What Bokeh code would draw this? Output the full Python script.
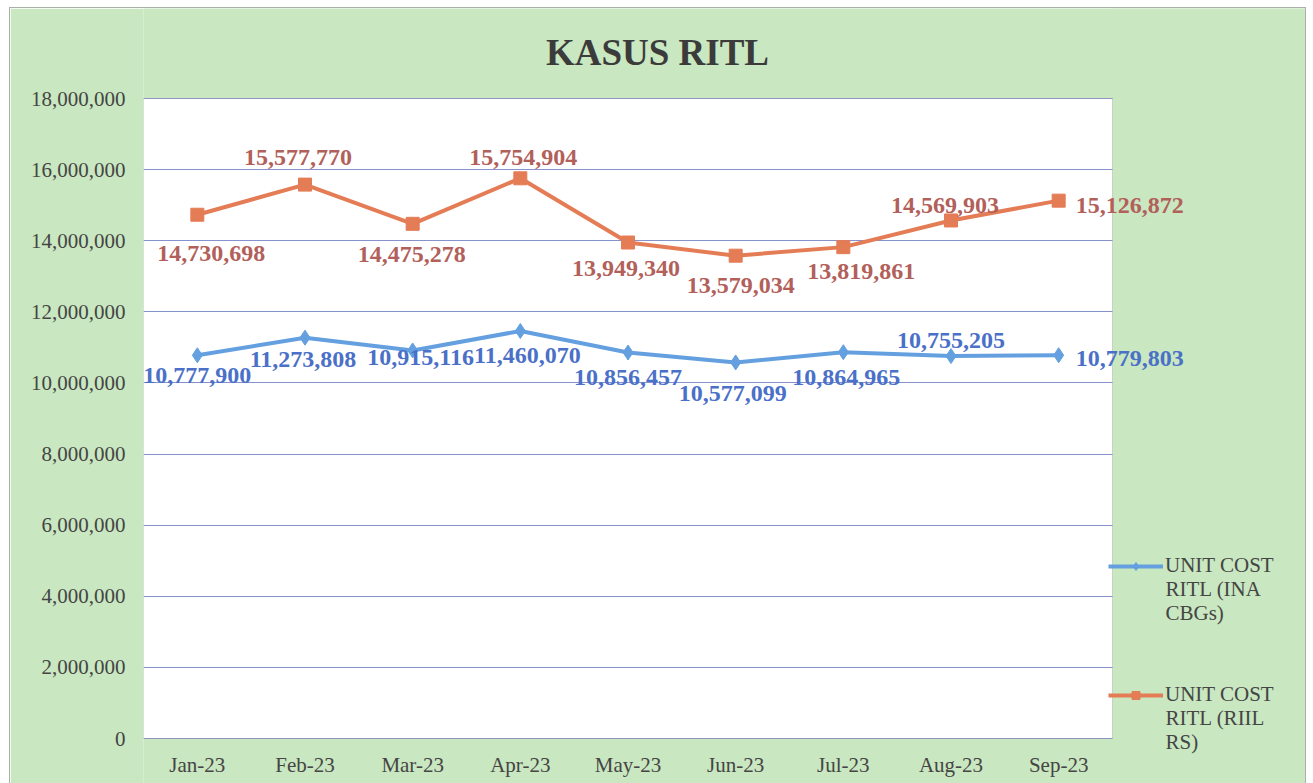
from bokeh.plotting import figure
from bokeh.models import (ColumnDataSource, LabelSet, Label, Legend, LegendItem, BoxAnnotation,
                          NumeralTickFormatter, FixedTicker, Range1d)
from bokeh.embed import file_html
from bokeh.resources import INLINE

months = ["Jan-23", "Feb-23", "Mar-23", "Apr-23", "May-23", "Jun-23", "Jul-23", "Aug-23", "Sep-23"]
ina_cbgs = [10777900, 11273808, 10915116, 11460070, 10856457, 10577099, 10864965, 10755205, 10779803]
riil_rs = [14730698, 15577770, 14475278, 15754904, 13949340, 13579034, 13819861, 14569903, 15126872]
series_lines = [["UNIT COST", "RITL (INA", "CBGs)"], ["UNIT COST", "RITL (RIIL", "RS)"]]
y_ticks = [0, 2000000, 4000000, 6000000, 8000000, 10000000, 12000000, 14000000, 16000000, 18000000]
title_text = "KASUS RITL"

# label placement (pixel offsets relative to each point)
ina_dx = [0, -2, 8, 7, 0, -3, 3, 0, 17]
ina_dy = [-20, -22, -7, -24, -25, -31, -25, 16, -3]
ina_align = ["center"] * 8 + ["left"]
rs_dx = [14, -7, -1, 3, -2, 5, 18, -6, 17]
rs_dy = [-39, 27, -31, 21, -26, -30, -24, 15, -5]
rs_align = ["center"] * 8 + ["left"]

GREEN = "#C9E7C0"
BLUE_LINE = "#64A0E0"
BLUE_TXT = "#4A70C8"
ORANGE_LINE = "#E47C55"
ORANGE_TXT = "#B2605A"
TXT = "#454545"
FONT = "Liberation Serif"

# layout (pixels); the frame covers everything right of the y axis
W, H = 1295, 775
LEFT = 133
FRAME_W, FRAME_H = W - LEFT, H
PLOT_W, PLOT_H = 969, 640          # white plotting area inside the frame
PLOT_BOTTOM_GAP = 45               # green strip under the white area (x labels)
n = len(months)
y_max = y_ticks[-1]
per_px = y_max / PLOT_H
x_end = -0.5 + n * FRAME_W / PLOT_W
y_start = -PLOT_BOTTOM_GAP * per_px
y_end = (FRAME_H - PLOT_BOTTOM_GAP) * per_px

p = figure(x_range=Range1d(-0.5, x_end), y_range=Range1d(y_start, y_end), width=W, height=H,
           output_backend="svg", toolbar_location=None,
           min_border_left=LEFT, min_border_right=0, min_border_top=0, min_border_bottom=0)
p.styles = {"margin-left": "10px", "margin-top": "8px", "outline": "1px solid #a8b0a8"}
p.border_fill_color = GREEN
p.background_fill_color = GREEN
p.outline_line_color = None

p.xgrid.grid_line_color = None
p.ygrid.grid_line_color = "#8592CC"
p.ygrid.grid_line_width = 1

p.xaxis.fixed_location = 0
p.xaxis.ticker = FixedTicker(ticks=list(range(n)))
p.xaxis.major_label_overrides = {i: m for i, m in enumerate(months)}
p.yaxis.ticker = FixedTicker(ticks=y_ticks)
p.yaxis.formatter = NumeralTickFormatter(format="0,0")
for ax in (p.xaxis, p.yaxis):
    ax.axis_line_color = None
    ax.major_tick_line_color = None
    ax.minor_tick_line_color = None
    ax.major_label_text_font = FONT
    ax.major_label_text_font_size = "21px"
    ax.major_label_text_color = TXT
p.yaxis.major_label_standoff = 12
p.xaxis.major_label_standoff = 8

# white plot area under the grid, green cover to the right of it, then its border
p.add_layout(BoxAnnotation(left=-0.5, right=n - 0.5, bottom=0, top=y_max, fill_color="white",
                           fill_alpha=1, line_color=None, level="image"))
p.add_layout(BoxAnnotation(left=n - 0.5, fill_color=GREEN, fill_alpha=1, line_color=None,
                           level="underlay"))
p.add_layout(BoxAnnotation(left=-0.5, right=n - 0.5, bottom=0, top=y_max, fill_alpha=0,
                           line_color="#9a9a9a", line_width=1, level="underlay"))

xs = list(range(n))
src = ColumnDataSource(dict(x=xs, ina=ina_cbgs, rs=riil_rs,
                            ina_lbl=[f"{v:,}" for v in ina_cbgs],
                            rs_lbl=[f"{v:,}" for v in riil_rs],
                            ina_dx=ina_dx, ina_dy=ina_dy, ina_align=ina_align,
                            rs_dx=rs_dx, rs_dy=rs_dy, rs_align=rs_align))

l1 = p.line("x", "ina", source=src, line_color=BLUE_LINE, line_width=4)
s1 = p.scatter("x", "ina", source=src, marker="diamond", size=15,
               fill_color=BLUE_LINE, line_color=BLUE_LINE)
l2 = p.line("x", "rs", source=src, line_color=ORANGE_LINE, line_width=4)
s2 = p.scatter("x", "rs", source=src, marker="square", size=13,
               fill_color=ORANGE_LINE, line_color=ORANGE_LINE)

p.add_layout(LabelSet(x="x", y="ina", text="ina_lbl", source=src,
                      x_offset="ina_dx", y_offset="ina_dy", text_align="ina_align",
                      text_baseline="middle", text_font=FONT, text_font_style="bold",
                      text_font_size="24px", text_color=BLUE_TXT))
p.add_layout(LabelSet(x="x", y="rs", text="rs_lbl", source=src,
                      x_offset="rs_dx", y_offset="rs_dy", text_align="rs_align",
                      text_baseline="middle", text_font=FONT, text_font_style="bold",
                      text_font_size="24px", text_color=ORANGE_TXT))

p.add_layout(Label(x=514, y=FRAME_H - 44, x_units="screen", y_units="screen", text=title_text,
                   text_align="center", text_baseline="middle", text_font=FONT,
                   text_font_style="bold", text_font_size="37px", text_color="#3b3b3b"))

# legend: glyph + first line, following lines as labels beneath
legend = Legend(items=[LegendItem(label=series_lines[0][0], renderers=[l1, s1]),
                       LegendItem(label=series_lines[1][0], renderers=[l2, s2])],
                location=(965, 31 + PLOT_BOTTOM_GAP), glyph_width=55, glyph_height=20,
                label_height=20, label_standoff=2, spacing=104, padding=0, margin=0,
                border_line_color=None, background_fill_alpha=0, label_text_font=FONT,
                label_text_font_size="21px", label_text_color=TXT)
p.add_layout(legend, "center")

LINE_H = 23.5
first_line_y = [FRAME_H - (565 - 8), FRAME_H - (694 - 8)]   # frame-relative y of first legend lines
for k, lines in enumerate(series_lines):
    for j, t in enumerate(lines[1:], start=1):
        p.add_layout(Label(x=1022, y=first_line_y[k] - j * LINE_H, x_units="screen",
                           y_units="screen", text=t, text_align="left", text_baseline="middle",
                           text_font=FONT, text_font_size="21px", text_color=TXT))

open("out.html", "w").write(file_html(p, INLINE))
